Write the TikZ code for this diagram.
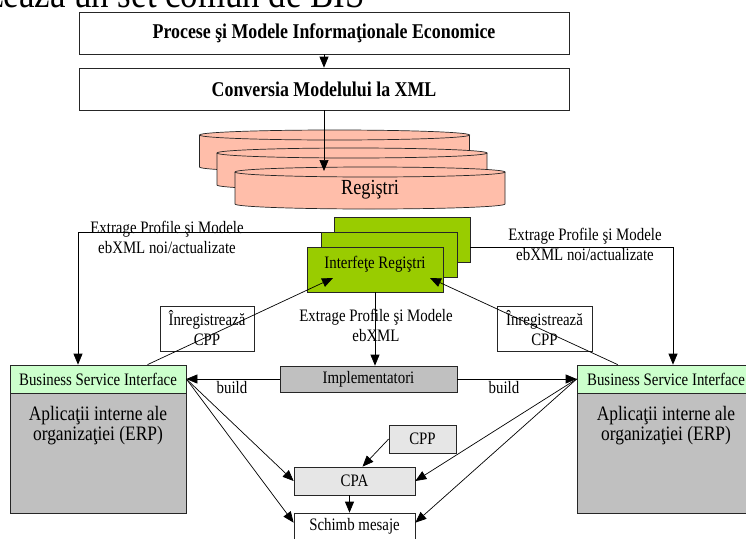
\documentclass[tikz,border=0pt]{standalone}
\usepackage{fontspec}
\setmainfont{Liberation Serif}[FakeStretch=0.85]
\usetikzlibrary{arrows.meta,calc}
\definecolor{diskfill}{RGB}{255,190,170}
\definecolor{ifacegreen}{RGB}{153,204,0}
\definecolor{bsigreen}{RGB}{204,255,204}
\definecolor{bodygrey}{RGB}{192,192,192}
\definecolor{lightbox}{RGB}{230,230,230}
\tikzset{
  frame/.style={draw=black!85, line width=0.7pt, inner sep=0pt},
  txt/.style={font=\fontsize{17.5}{20}\selectfont, align=center, inner sep=0pt},
  bigtxt/.style={font=\fontsize{20.5}{20}\selectfont, align=center, inner sep=0pt},
  boldtxt/.style={font=\bfseries\fontsize{21}{22}\selectfont},
  arr/.style={-{Triangle[length=11pt,width=9pt]}, line width=0.7pt, draw=black},
  pics/dbdisk/.style={code={
    \fill[diskfill] (-135,0) -- (-135,32)
      arc[start angle=180, end angle=0, x radius=135, y radius=5] -- (135,0) -- cycle;
    \draw[black!85, line width=0.7pt] (-135,0) -- (-135,32)
      arc[start angle=180, end angle=0, x radius=135, y radius=5] -- (135,0);
    \filldraw[fill=diskfill, draw=black!85, line width=0.7pt]
      (0,0) ellipse[x radius=135, y radius=5];
  }}
}
\begin{document}
\begin{tikzpicture}[x=1pt, y=-1pt]
\useasboundingbox (0,0) rectangle (746,538);
\clip (0,0) rectangle (746,538);
\fill[white] (0,0) rectangle (746,538);

% running text of the page, cut by the top edge
\node[anchor=base east, font=\fontsize{41}{44}\selectfont, inner sep=0pt] (pagetext) at (365,8) {realizează un set comun de BIS};

% modelling steps
\node[frame, minimum width=490pt, minimum height=42pt, boldtxt] (box1) at (324,33) {Procese şi Modele Informaţionale Economice};
\node[frame, minimum width=490pt, minimum height=42pt, boldtxt] (box2) at (324,89) {Conversia Modelului la XML};
\draw[arr] (box1) -- (box2);

% registry disks
\pic at (334.5,135) {dbdisk};
\pic at (352,153) {dbdisk};
\pic at (370,172) {dbdisk};
\node[bigtxt, font=\fontsize{21.5}{22}\selectfont] (reg) at (370,190) {Regiştri};
\coordinate (regtop) at (box2.south |- 0,171);
\draw[arr] (box2.south) -- (regtop);

% routes from the registry interfaces to both business service interfaces
\coordinate (lroute) at (78,232);
\coordinate (rroute) at (673,247);
\node[frame, fill=ifacegreen, minimum width=136pt, minimum height=45pt] (back) at (402,239.5) {};

% partner applications
\node[frame, fill=bsigreen, minimum width=176pt, minimum height=28pt, font=\fontsize{17.5}{19}\selectfont] (bsiL) at (98,379) {Business Service Interface};
\node[frame, fill=bodygrey, minimum width=176pt, minimum height=120pt] (appL) at (98,453) {};
\node[bigtxt] (appLtext) at (98,426) {Aplicaţii interne ale\\organizaţiei (ERP)};
\node[frame, fill=bsigreen, minimum width=178pt, minimum height=28pt, font=\fontsize{17.5}{19}\selectfont] (bsiR) at (666,379) {Business Service Interface};
\node[frame, fill=bodygrey, minimum width=178pt, minimum height=120pt] (appR) at (666,453) {};
\node[bigtxt] (appRtext) at (666,426) {Aplicaţii interne ale\\organizaţiei (ERP)};

\draw[arr] (back.west |- lroute) -- (lroute) -- (lroute |- bsiL.north);
\draw[arr] (back.east |- rroute) -- (rroute) -- (rroute |- bsiR.north);
\node[txt] (labL) at (167,237) {Extrage Profile şi Modele\\ebXML noi/actualizate};
\node[txt] (labR) at (585,244) {Extrage Profile şi Modele\\ebXML noi/actualizate};

\node[frame, fill=ifacegreen, minimum width=136pt, minimum height=45pt] (middle) at (389,254.5) {};
\node[frame, fill=ifacegreen, minimum width=136pt, minimum height=45pt] (front) at (375,269.5) {};
\node[txt] (ifacetext) at (375,264) {Interfeţe Regiştri};

% implementers
\node[frame, fill=bodygrey, minimum width=177pt, minimum height=26pt, font=\fontsize{17.5}{19}\selectfont] (impl) at (368.5,379) {Implementatori};
\draw[arr] (front.south) -- (front.south |- impl.north);
\node[txt] (labM) at (376,325) {Extrage Profile şi Modele\\ebXML};

% registration of the profiles
\node[frame, fill=white, minimum width=94pt, minimum height=45pt, txt] (regCPPL) at (207,328.5) {Înregistrează\\CPP};
\node[frame, fill=white, minimum width=95pt, minimum height=45pt, txt] (regCPPR) at (544.5,328.5) {Înregistrează\\CPP};
\coordinate (regL) at (333,278);
\coordinate (regR) at (430,278);
\draw[arr] ($(bsiL.north west)!0.78!(bsiL.north east)$) -- (regL);
\draw[arr] ($(bsiR.north west)!0.23!(bsiR.north east)$) -- (regR);

% build
\draw[arr] (impl.west) -- (bsiL.east);
\draw[arr] (impl.east) -- (bsiR.west);
\node[txt] (buildL) at (232,388) {build};
\node[txt] (buildR) at (504,388) {build};

% agreement and message exchange
\node[frame, fill=lightbox, minimum width=67pt, minimum height=28pt, txt] (cpp) at (422.5,439) {CPP};
\node[frame, fill=lightbox, minimum width=121pt, minimum height=28pt, txt] (cpa) at (354.5,481) {CPA};
\node[frame, fill=white, minimum width=121pt, minimum height=34pt, txt, text depth=12pt] (msg) at (354.5,530) {Schimb mesaje};
\draw[arr] (cpp.west) -- ($(cpa.north)+(8,0)$);
\draw[arr] ($(cpa.south)+(-5,0)$) -- ($(msg.north)+(-5,0)$);
\draw[arr] (bsiL.east) -- (cpa.west);
\draw[arr] (bsiL.east) -- ($(msg.north west)+(0,10)$);
\draw[arr] (bsiR.west) -- (cpa.east);
\draw[arr] (bsiR.west) -- ($(msg.north east)+(0,10)$);
\end{tikzpicture}
\end{document}
